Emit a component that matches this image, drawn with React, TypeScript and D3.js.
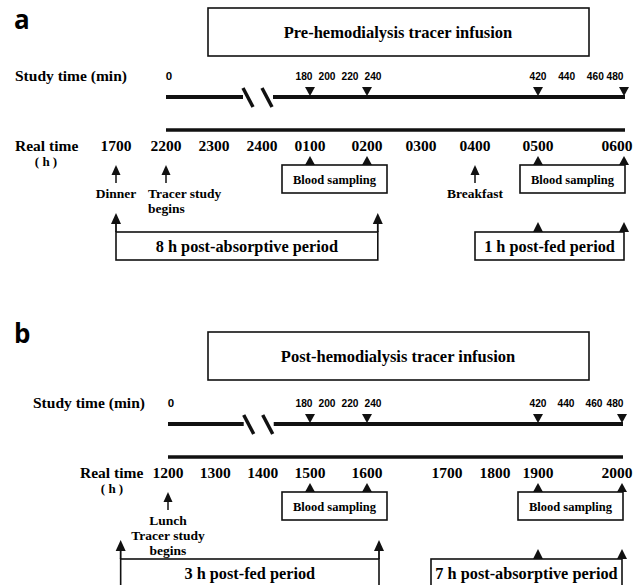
import React from "react";
import * as d3 from "d3";

const W = 635;
const H = 585;

// panel texts
const panelLetters = ["a", "b"];
const infusionTitles = ["Pre-hemodialysis tracer infusion", "Post-hemodialysis tracer infusion"];

// study time (minutes after the tracer starts)
const studyTickMinutes = [0, 180, 200, 220, 240, 420, 440, 460, 480];
const studyMarkMinutes = [180, 240, 420, 480];
const samplingWindows: [number, number][] = [[180, 240], [420, 480]];
const breakMinute = 115;

// real time (hours after the first label)
const realLabelsA = ["1700", "2200", "2300", "2400", "0100", "0200", "0300", "0400", "0500", "0600"];
const realHoursA = [0, 5, 6, 7, 8, 9, 10, 11, 12, 13];
const realLabelsB = ["1200", "1300", "1400", "1500", "1600", "1700", "1800", "1900", "2000"];
const realHoursB = [0, 1, 2, 3, 4, 5, 6, 7, 8];
const tracerStartHour = [5, 0];

interface EventNote { hour: number; lines: string[]; anchor: "start" | "middle"; }
const eventsA: EventNote[] = [
  { hour: 0, lines: ["Dinner"], anchor: "middle" },
  { hour: 5, lines: ["Tracer study", "begins"], anchor: "start" },
  { hour: 11, lines: ["Breakfast"], anchor: "middle" },
];
const eventsB: EventNote[] = [
  { hour: 0, lines: ["Lunch", "Tracer study", "begins"], anchor: "middle" },
];

interface Period { label: string; from: number; to: number; edgeArrows: boolean; topArrows: number[]; }
const periodsA: Period[] = [
  { label: "8 h post-absorptive period", from: 0, to: 9.2, edgeArrows: true, topArrows: [] },
  { label: "1 h post-fed period", from: 11, to: 13, edgeArrows: false, topArrows: [12, 13] },
];
const periodsB: Period[] = [
  { label: "3 h post-fed period", from: -1, to: 4.15, edgeArrows: true, topArrows: [] },
  { label: "7 h post-absorptive period", from: 4.8, to: 8, edgeArrows: false, topArrows: [7, 8] },
];

const panels = [
  {
    dy: 0, titleTop: 8, letterY: 28.5, studyLabelX: 15, realLabelX: 15, hX: 46,
    stops: [0, 5, 8, 9, 11, 12, 13], range: [116, 166, 310, 367, 475, 538, 624],
    labels: realLabelsA, hours: realHoursA, events: eventsA, periods: periodsA,
  },
  {
    dy: 327, titleTop: 5, letterY: 16, studyLabelX: 33, realLabelX: 80, hX: 112,
    stops: [0, 3, 4, 5, 6, 7, 8], range: [168, 310, 367, 447, 495, 538, 622],
    labels: realLabelsB, hours: realHoursB, events: eventsB, periods: periodsB,
  },
];

const serif = "'Liberation Serif', 'Times New Roman', serif";
const sans = "'Liberation Sans', Arial, sans-serif";
const ink = "#111";

const upHead = (x: number, tip: number, w = 10, h = 10) =>
  `M${x},${tip}L${x - w / 2},${tip + h}L${x + w / 2},${tip + h}Z`;
const downHead = (x: number, bottom: number, w = 10, h = 9) =>
  `M${x - w / 2},${bottom - h}L${x + w / 2},${bottom - h}L${x},${bottom}Z`;

function Panel({ i }: { i: number }) {
  const P = panels[i];
  const x = d3.scaleLinear().domain(P.stops).range(P.range);
  const start = tracerStartHour[i];
  const xm = (m: number) => x(start + m / 60);
  const right = xm(480) + 1;
  const bx = xm(breakMinute);
  // the first group of study labels is spread a little wider than the marks
  const tickX = (m: number) => {
    if (m === 0) return xm(m) + 3;
    if (m <= 240) return xm(m) + (m - 210) * 0.2;
    return Math.min(xm(m), W - 20);
  };

  return (
    <g transform={`translate(0,${P.dy})`}>
      <text x={14} y={P.letterY} fontFamily="'Open Sans', sans-serif" fontWeight={700} fontSize={26}>
        {panelLetters[i]}
      </text>

      {/* infusion title */}
      <rect x={208} y={P.titleTop} width={381} height={48} fill="none" stroke={ink} strokeWidth={1.6} />
      <text x={398} y={P.titleTop + 29.5} textAnchor="middle" fontFamily={serif} fontWeight={700} fontSize={16.5}>
        {infusionTitles[i]}
      </text>

      {/* study time axis */}
      <text x={P.studyLabelX} y={81} fontFamily={serif} fontWeight={700} fontSize={15.5}>Study time (min)</text>
      {studyTickMinutes.map((m) => (
        <text key={m} x={tickX(m)} y={80} textAnchor="middle"
          fontFamily={sans} fontWeight={700} fontSize={11.5}
          textLength={m === 0 ? undefined : 17} lengthAdjust="spacingAndGlyphs">{m}</text>
      ))}
      <line x1={xm(0)} x2={bx - 15} y1={97} y2={97} stroke={ink} strokeWidth={4} />
      <line x1={bx + 15} x2={right} y1={97} y2={97} stroke={ink} strokeWidth={4} />
      {[-10, 9].map((o) => (
        <line key={o} x1={bx + o - 5} x2={bx + o + 5} y1={88} y2={107} stroke={ink} strokeWidth={3.5} />
      ))}
      {studyMarkMinutes.map((m) => (
        <path key={m} d={downHead(xm(m), 96)} fill={ink} />
      ))}

      {/* real time axis */}
      <line x1={xm(0)} x2={right} y1={130} y2={130} stroke={ink} strokeWidth={3.5} />
      <text x={P.realLabelX} y={151} fontFamily={serif} fontWeight={700} fontSize={15.5}>Real time</text>
      <text x={P.hX} y={165.5} textAnchor="middle" fontFamily={serif} fontWeight={700} fontSize={13}>( h )</text>
      {P.labels.map((lab, k) => (
        <text key={lab} x={Math.min(x(P.hours[k]), W - 18)} y={151} textAnchor="middle"
          fontFamily={serif} fontWeight={700} fontSize={15.5}>{lab}</text>
      ))}

      {/* blood sampling */}
      {samplingWindows.map(([a, b]) => {
        const bR = Math.min((xm(a) + xm(b)) / 2 - 4 + 52.5, right);
        const bL = bR - 105;
        return (
          <g key={a}>
            <rect x={bL} y={165} width={bR - bL} height={28} fill="none" stroke={ink} strokeWidth={1.6} />
            <path d={upHead(xm(a), 156, 10, 9)} fill={ink} />
            <path d={upHead(xm(b), 156, 10, 9)} fill={ink} />
            <text x={(bL + bR) / 2} y={183.5} textAnchor="middle" fontFamily={serif} fontWeight={700}
              fontSize={12.5}>Blood sampling</text>
          </g>
        );
      })}

      {/* meals / tracer start */}
      {P.events.map((e) => {
        const ex = x(e.hour);
        const tx = e.anchor === "start" ? ex - 18 : ex;
        return (
          <g key={e.lines[0]}>
            <path d={upHead(ex, 165, 9, 10)} fill={ink} />
            <line x1={ex} x2={ex} y1={174} y2={183} stroke={ink} strokeWidth={1.5} />
            {e.lines.map((ln, k) => (
              <text key={ln} x={tx} y={198 + k * 15} textAnchor={e.anchor} fontFamily={serif}
                fontWeight={700} fontSize={13.5}>{ln}</text>
            ))}
          </g>
        );
      })}

      {/* periods */}
      {P.periods.map((p) => {
        const pL = x(p.from);
        const pR = Math.min(x(p.to), right);
        return (
          <g key={p.label}>
            <rect x={pL} y={232} width={pR - pL} height={28} fill="none" stroke={ink} strokeWidth={1.6} />
            {p.edgeArrows && [pL, pR].map((ax) => (
              <g key={ax}>
                <path d={upHead(ax, 213, 10, 11)} fill={ink} />
                <line x1={ax} x2={ax} y1={222} y2={232} stroke={ink} strokeWidth={1.8} />
              </g>
            ))}
            {p.topArrows.map((h) => (
              <path key={h} d={upHead(x(h), 222, 10, 10)} fill={ink} />
            ))}
            <text x={(pL + pR) / 2} y={252} textAnchor="middle" fontFamily={serif} fontWeight={700}
              fontSize={16.3}>{p.label}</text>
          </g>
        );
      })}
    </g>
  );
}

export default function App() {
  return (
    <svg width={W} height={H} style={{ position: "absolute", left: 0, top: 0, background: "#fff" }}>
      <rect width={W} height={H} fill="#fff" />
      {panels.map((_, i) => <Panel key={i} i={i} />)}
    </svg>
  );
}
